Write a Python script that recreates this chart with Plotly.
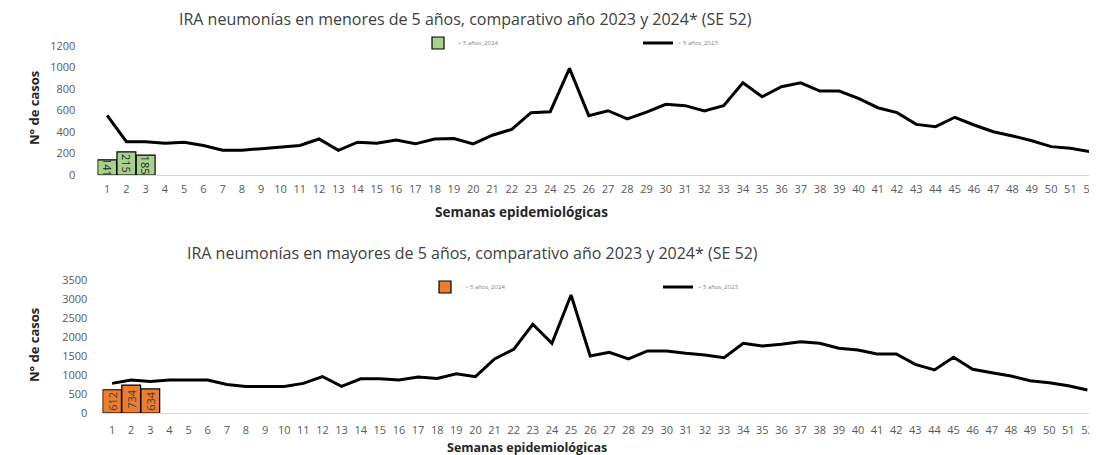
import plotly.graph_objects as go

weeks = list(range(1, 53))
tick_labels = [str(w) for w in weeks]

menores_2023 = [555, 310, 310, 295, 305, 275, 230, 230, 245, 260, 275, 335, 230, 305, 295, 325,
                290, 335, 340, 290, 370, 425, 580, 589, 992, 552, 598, 521, 585, 658, 645, 595,
                645, 858, 728, 821, 858, 781, 781, 713, 626, 580, 471, 450, 537, 465, 403, 363,
                319, 264, 248, 217]
menores_2024_weeks = [1, 2, 3]
menores_2024 = [141, 215, 185]

mayores_2023 = [780, 870, 830, 870, 870, 870, 750, 700, 700, 700, 780, 960, 700, 900, 900, 870,
                950, 910, 1030, 955, 1421, 1676, 2334, 1834, 3105, 1500, 1597, 1421, 1632, 1632,
                1571, 1526, 1456, 1834, 1763, 1807, 1877, 1834, 1702, 1658, 1553, 1553, 1281,
                1132, 1465, 1149, 1061, 974, 851, 798, 719, 605]
mayores_2024_weeks = [1, 2, 3]
mayores_2024 = [612, 734, 634]

OFF = 8  # page body margin
W, H = 1097 - OFF, 455 - OFF
FONT = "Open Sans"
GRAY = "#595959"


def px_x(x):
    return (x - OFF) / W


def px_y(y):
    return 1 - (y - OFF) / H


fig = go.Figure()

fig.add_trace(go.Bar(
    x=menores_2024_weeks, y=menores_2024, name="< 5 años_2024",
    marker=dict(color="#a9d18e", line=dict(color="#000000", width=1.2)),
    text=menores_2024, textposition="inside", insidetextanchor="middle",
    constraintext="none", textangle=90, cliponaxis=False,
    textfont=dict(family=FONT, size=11, color="#262626"),
    xaxis="x", yaxis="y", legend="legend"))
fig.add_trace(go.Scatter(
    x=weeks, y=menores_2023, name="< 5 años_2023", mode="lines",
    line=dict(color="#000000", width=3), xaxis="x", yaxis="y", legend="legend"))

fig.add_trace(go.Bar(
    x=mayores_2024_weeks, y=mayores_2024, name="> 5 años_2024",
    marker=dict(color="#ed7d31", line=dict(color="#000000", width=1.2)),
    text=mayores_2024, textposition="inside", insidetextanchor="middle",
    constraintext="none", textangle=-90, cliponaxis=False,
    textfont=dict(family=FONT, size=11, color="#404040"),
    xaxis="x2", yaxis="y2", legend="legend2"))
fig.add_trace(go.Scatter(
    x=weeks, y=mayores_2023, name="> 5 años_2023", mode="lines",
    line=dict(color="#000000", width=3), xaxis="x2", yaxis="y2", legend="legend2"))


def ydom(top_px, bottom_px):
    return [px_y(bottom_px), px_y(top_px)]


axis_common = dict(showgrid=False, zeroline=False, automargin=False,
                   tickfont=dict(family=FONT, size=11, color=GRAY))

fig.update_layout(
    width=W, height=H,
    margin=dict(l=0, r=0, t=0, b=0, autoexpand=False),
    plot_bgcolor="white", paper_bgcolor="white",
    bargap=0.02,
    showlegend=True,
    xaxis=dict(domain=[px_x(97.5), 1], range=[0.5, 52.38], tickmode="array",
               tickvals=weeks, ticktext=tick_labels, showline=True, linecolor="#d9d9d9",
               linewidth=1, ticks="outside", ticklen=4, tickcolor="rgba(0,0,0,0)",
               anchor="y", **axis_common),
    yaxis=dict(domain=ydom(46, 175), range=[0, 1200], dtick=200, ticks="outside",
               ticklen=19, tickcolor="rgba(0,0,0,0)", anchor="x", **axis_common),
    xaxis2=dict(domain=[px_x(102.5), 1], range=[0.5, 52.5], tickmode="array",
                tickvals=weeks, ticktext=tick_labels, showline=True, linecolor="#d9d9d9",
                linewidth=1, ticks="outside", ticklen=7, tickcolor="rgba(0,0,0,0)",
                anchor="y2", **axis_common),
    yaxis2=dict(domain=ydom(280, 413), range=[0, 3500], dtick=500, ticks="outside",
                ticklen=12, tickcolor="rgba(0,0,0,0)", anchor="x2", **axis_common),
    legend=dict(orientation="h", x=px_x(418), y=px_y(43), xanchor="left", yanchor="middle",
                entrywidth=175, entrywidthmode="pixels", bgcolor="rgba(0,0,0,0)",
                font=dict(family=FONT, size=6, color="#7f7f7f"), itemwidth=30,
                tracegroupgap=0),
    legend2=dict(orientation="h", x=px_x(425), y=px_y(287), xanchor="left", yanchor="middle",
                 entrywidth=188, entrywidthmode="pixels", bgcolor="rgba(0,0,0,0)",
                 font=dict(family=FONT, size=6, color="#7f7f7f"), itemwidth=30,
                 tracegroupgap=0),
)

annos = [
    dict(text="IRA neumonías en menores de 5 años, comparativo año 2023 y 2024* (SE 52)",
         x=465, y=19, size=16, bold=False, angle=0),
    dict(text="IRA neumonías en mayores de 5 años, comparativo año 2023 y 2024* (SE 52)",
         x=472, y=253, size=16, bold=False, angle=0),
    dict(text="Semanas epidemiológicas", x=521, y=212, size=13.5, bold=True, angle=0),
    dict(text="Semanas epidemiológicas", x=527, y=447, size=12.5, bold=True, angle=0),
    dict(text="N° de casos", x=34, y=108, size=13, bold=True, angle=-90),
    dict(text="N° de casos", x=34, y=345, size=13, bold=True, angle=-90),
]
for a in annos:
    txt = f"<b>{a['text']}</b>" if a["bold"] else a["text"]
    fig.add_annotation(text=txt, x=px_x(a["x"]), y=px_y(a["y"]), xref="paper", yref="paper",
                       xanchor="center", yanchor="middle", showarrow=False, textangle=a["angle"],
                       font=dict(family=FONT, size=a["size"], color="#262626" if a["bold"] else "#404040"))

fig.write_html("out.html")
